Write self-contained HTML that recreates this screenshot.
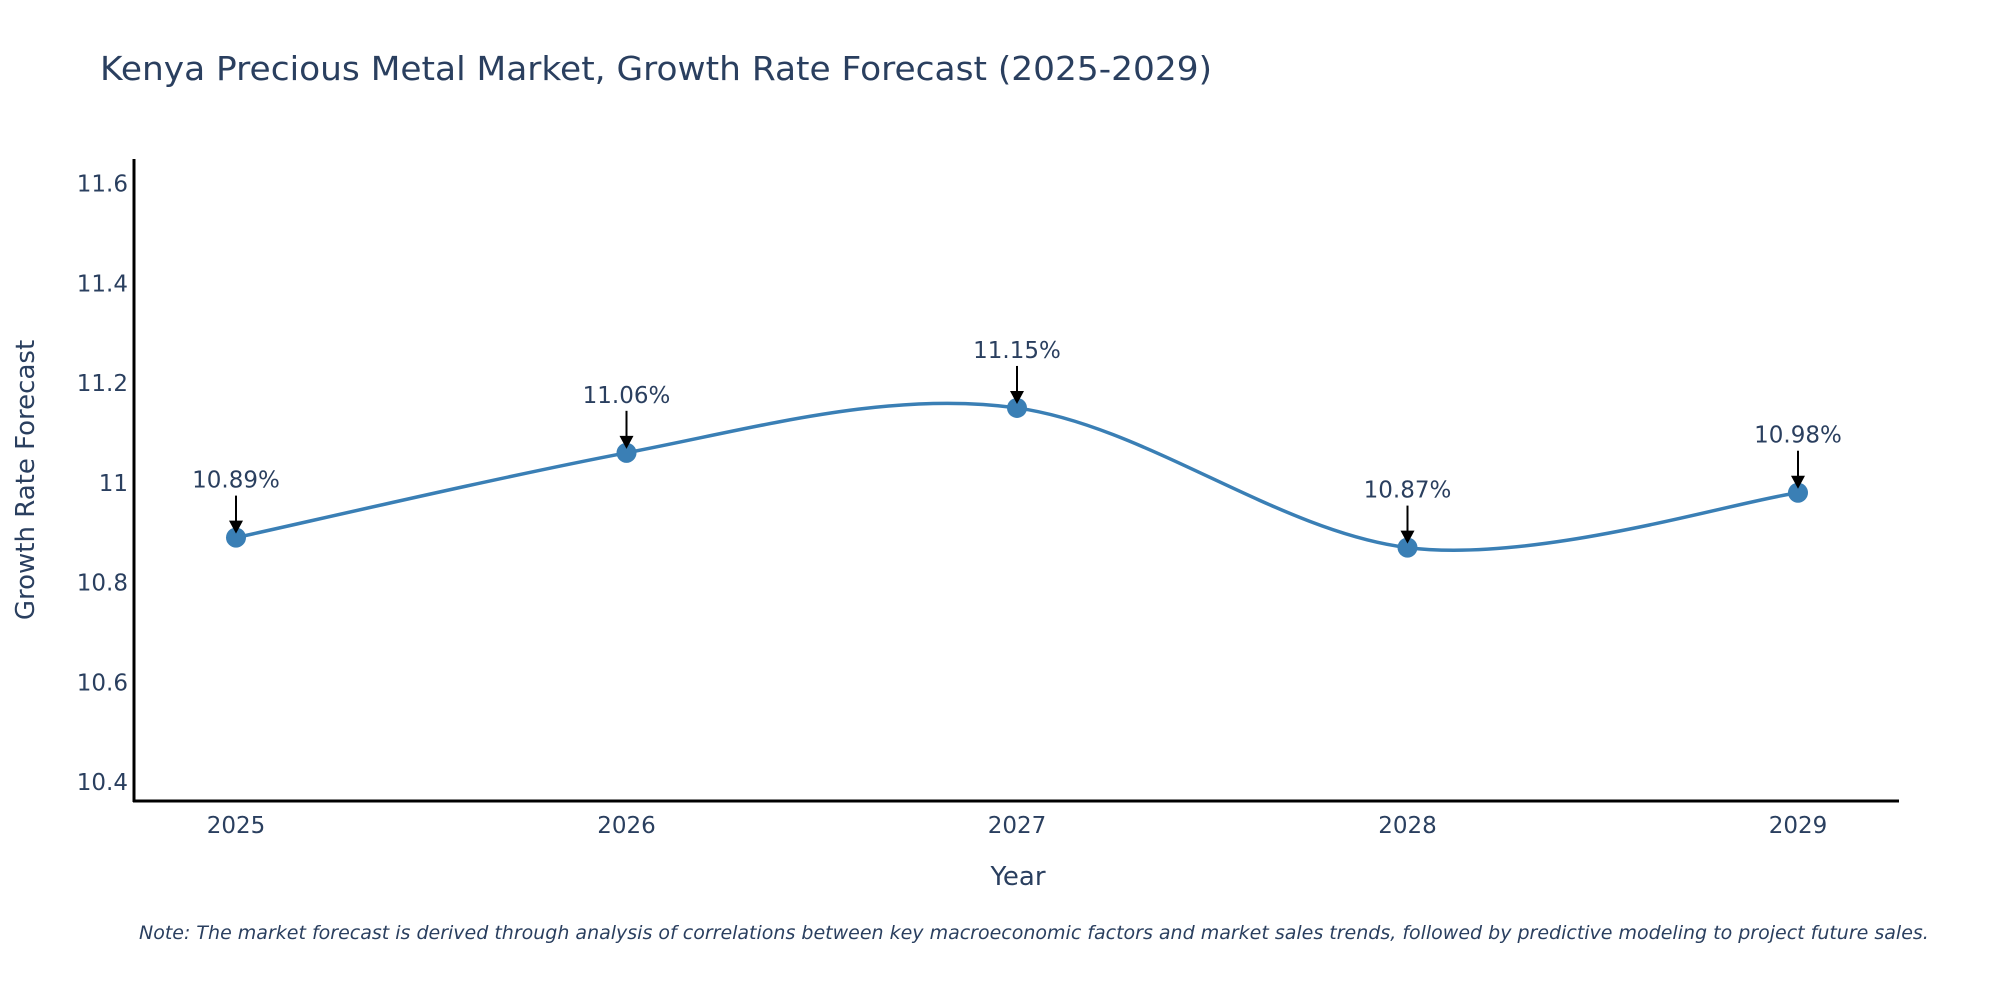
<!DOCTYPE html>
<html><head><meta charset="utf-8"><style>
body{margin:0;background:#fff}
svg text{font-family:"DejaVu Sans","Liberation Sans",sans-serif;fill:#2a3f5f}
</style></head><body>
<svg id="chart" width="2000" height="1000" xmlns="http://www.w3.org/2000/svg">
<rect width="2000" height="1000" fill="#fff"/>
<text x="100" y="80" font-size="33" textLength="1112" lengthAdjust="spacingAndGlyphs">Kenya Precious Metal Market, Growth Rate Forecast (2025-2029)</text>
<g id="yticks"></g>
<g id="xticks"></g>
<line x1="134" y1="159" x2="134" y2="802" stroke="#000" stroke-width="3"/>
<line x1="133" y1="801" x2="1899" y2="801" stroke="#000" stroke-width="3"/>
<text transform="translate(34,480) rotate(-90)" text-anchor="middle" font-size="26">Growth Rate Forecast</text>
<text x="1018" y="885" text-anchor="middle" font-size="26">Year</text>
<g id="series"></g>
<g id="annots"></g>
<text x="139" y="939" font-size="19" font-style="italic">Note: The market forecast is derived through analysis of correlations between key macroeconomic factors and market sales trends, followed by predictive modeling to project future sales.</text>
</svg>
<script>
const years = [2025, 2026, 2027, 2028, 2029];
const values = [10.89, 11.06, 11.15, 10.87, 10.98];
const labels = ["10.89%", "11.06%", "11.15%", "10.87%", "10.98%"];
const yTickValues = [10.4, 10.6, 10.8, 11, 11.2, 11.4, 11.6];
const yTickLabels = ["10.4", "10.6", "10.8", "11", "11.2", "11.4", "11.6"];

const NS = "http://www.w3.org/2000/svg";
function xs(v){ return 236 + (v - 2025) * 390.5; }
function ys(v){ return 782 - (v - 10.4) / 1.2 * 598.5; }
function mk(tag, attrs, parent){
  const e = document.createElementNS(NS, tag);
  for (const k in attrs) e.setAttribute(k, attrs[k]);
  parent.appendChild(e); return e;
}
const yt = document.getElementById('yticks');
yTickValues.forEach((v, i) => {
  const t = mk('text', {x:128, y:ys(v)+8, 'text-anchor':'end', 'font-size':23}, yt);
  
  
  t.textContent = yTickLabels[i];
});
const xt = document.getElementById('xticks');
years.forEach(y => {
  const t = mk('text', {x:xs(y), y:833, 'text-anchor':'middle', 'font-size':23}, xt);
  
  
  t.textContent = String(y);
});
const pts = years.map((y, i) => [xs(y), ys(values[i])]);
const s = 0.33;
let d = `M${pts[0][0]},${pts[0][1]}`;
for (let i = 0; i < pts.length - 1; i++) {
  const p0 = pts[Math.max(0, i-1)], p1 = pts[i], p2 = pts[i+1], p3 = pts[Math.min(pts.length-1, i+2)];
  const c1x = p1[0] + (p2[0]-p0[0]) * s / 2, c1y = p1[1] + (p2[1]-p0[1]) * s / 2 * (i===0?1:1.15);
  const c2x = p2[0] - (p3[0]-p1[0]) * s / 2, c2y = p2[1] - (p3[1]-p1[1]) * s / 2 * (i===pts.length-2?1:1.15);
  d += ` C${c1x},${c1y} ${c2x},${c2y} ${p2[0]},${p2[1]}`;
}
const ser = document.getElementById('series');
const line = mk('path', {d:d, fill:'none', stroke:'#3a7fb5', 'stroke-width':3.5}, ser);


pts.forEach(p => {
  const c = mk('circle', {cx:p[0], cy:p[1], r:10, fill:'#3a7fb5'}, ser);
  
  
});
const an = document.getElementById('annots');
pts.forEach((p, i) => {
  const l = mk('line', {x1:p[0], y1:p[1]-42, x2:p[0], y2:p[1]-14, stroke:'#000', 'stroke-width':2}, an);
  
  
  const h = mk('polygon', {points:`${p[0]-7},${p[1]-17} ${p[0]+7},${p[1]-17} ${p[0]},${p[1]-4}`, fill:'#000'}, an);
  
  
  const t = mk('text', {x:p[0], y:p[1]-50, 'text-anchor':'middle', 'font-size':23}, an);
  
  
  t.textContent = labels[i];
});
</script>
</body></html>
